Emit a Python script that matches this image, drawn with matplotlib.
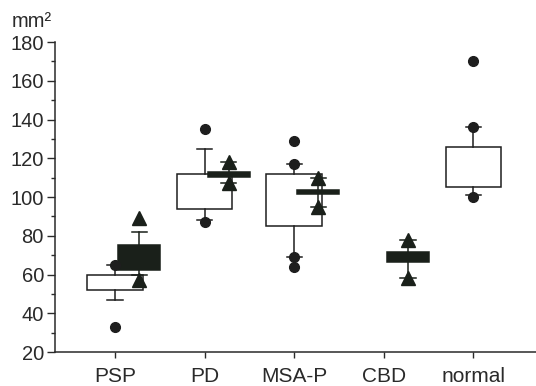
import matplotlib
matplotlib.use("Agg")
import matplotlib.pyplot as plt
from matplotlib.ticker import MultipleLocator

plt.rcParams['font.family'] = ['Liberation Sans', 'DejaVu Sans']

groups = ['PSP', 'PD', 'MSA-P', 'CBD', 'normal']

# open boxes (no box for CBD)
open_groups = ['PSP', 'PD', 'MSA-P', 'normal']
open_lo = [47, 88, 69, 101]
open_q1 = [52, 94, 85, 105]
open_q3 = [60, 112, 112, 126]
open_hi = [65, 125, 117, 136]
open_dots = [[33, 65], [87, 135], [64, 69, 117, 129], [100, 136, 170]]

# filled boxes (no box for normal)
fill_groups = ['PSP', 'PD', 'MSA-P', 'CBD']
fill_lo = [60, 107, 95, 58]
fill_q1 = [62.5, 110.5, 101.8, 66.4]
fill_q3 = [75, 113, 103.4, 71.6]
fill_hi = [82, 118, 110, 78]
fill_tri = [[57, 89], [107, 118], [95, 110], [58, 78]]

ink = '#1e1e1e'
dark = '#1a201a'
txt = '#2a2a2a'
offset = 0.27

def make_stats(lo, q1, q3, hi):
    stats = []
    for a, b, c, d in zip(lo, q1, q3, hi):
        stats.append({'whislo': a, 'q1': b, 'med': (b + c) / 2, 'q3': c,
                      'whishi': d, 'fliers': []})
    return stats

fig = plt.figure(figsize=(5.36, 3.86), dpi=100)
ax = fig.add_axes([0.1026, 0.088, 0.8974, 0.803])

open_pos = [groups.index(g) + 1 for g in open_groups]
fill_pos = [groups.index(g) + 1 + offset for g in fill_groups]

ax.bxp(make_stats(open_lo, open_q1, open_q3, open_hi), positions=open_pos,
       widths=0.62, patch_artist=True, showfliers=False,
       boxprops=dict(facecolor='white', edgecolor=ink, linewidth=1.1),
       whiskerprops=dict(color=ink, linewidth=1.1),
       capprops=dict(color=ink, linewidth=1.1),
       medianprops=dict(visible=False), capwidths=0.17)

ax.bxp(make_stats(fill_lo, fill_q1, fill_q3, fill_hi), positions=fill_pos,
       widths=0.47, patch_artist=True, showfliers=False,
       boxprops=dict(facecolor=dark, edgecolor=dark, linewidth=1.1),
       whiskerprops=dict(color=dark, linewidth=1.1),
       capprops=dict(color=dark, linewidth=1.1),
       medianprops=dict(visible=False), capwidths=0.17, zorder=3)

for p, vals in zip(open_pos, open_dots):
    ax.plot([p] * len(vals), vals, 'o', color=ink, markersize=7, zorder=4)
for p, vals in zip(fill_pos, fill_tri):
    ax.plot([p] * len(vals), vals, '^', color=dark, markersize=10, zorder=4)

ax.set_xlim(0.33, 5.70)
ax.set_ylim(20, 180)
ax.set_xticks(range(1, len(groups) + 1))
ax.set_xticklabels(groups, fontsize=15, color=txt)
ax.yaxis.set_major_locator(MultipleLocator(20))
ax.yaxis.set_minor_locator(MultipleLocator(10))
ax.tick_params(axis='y', which='major', length=6, width=1, labelsize=14.5,
               colors=txt, pad=2)
ax.tick_params(axis='y', which='minor', length=3, width=1, colors=txt)
ax.tick_params(axis='x', length=4, width=1, pad=7, colors=txt)

for s in ['top', 'right']:
    ax.spines[s].set_visible(False)
for s in ['left', 'bottom']:
    ax.spines[s].set_color(txt)
    ax.spines[s].set_linewidth(1.1)

fig.text(12 / 536, 1 - 27 / 386, 'mm²', fontsize=14.5, color=txt,
         ha='left', va='baseline')

fig.savefig('out.png', dpi=100)
